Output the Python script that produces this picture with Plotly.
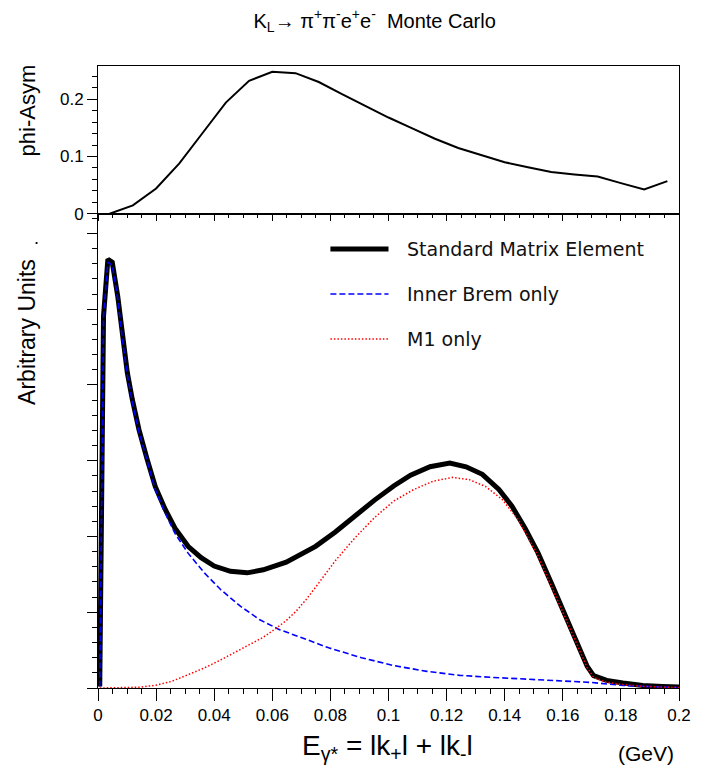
import plotly.graph_objects as go

# top panel: phi asymmetry vs E_gamma*
asym_x = [0.004, 0.012, 0.020, 0.028, 0.036, 0.044, 0.052, 0.060, 0.068, 0.076,
          0.084, 0.092, 0.100, 0.108, 0.116, 0.124, 0.132, 0.140, 0.148, 0.156,
          0.164, 0.172, 0.180, 0.188, 0.196]
asym_y = [0.0, 0.0145, 0.044, 0.088, 0.141, 0.194, 0.232, 0.248, 0.2455, 0.230,
          0.209, 0.188, 0.168, 0.1496, 0.131, 0.1147, 0.103, 0.090, 0.081, 0.0728,
          0.0687, 0.065, 0.0535, 0.0425, 0.057]

# bottom panel: spectra (arbitrary units)
std_x = [0.0006, 0.0019, 0.0034, 0.0049, 0.0068, 0.0085, 0.0101, 0.0118, 0.0141, 0.0169,
         0.0197, 0.0231, 0.0265, 0.031, 0.0355, 0.040, 0.0456, 0.0513, 0.0569, 0.0648,
         0.0715, 0.0749, 0.0817, 0.0884, 0.0952, 0.1019, 0.1076, 0.1143, 0.1211, 0.1267,
         0.1323, 0.138, 0.1425, 0.147, 0.1515, 0.156, 0.1605, 0.165, 0.1684, 0.1706,
         0.1751, 0.1807, 0.1875, 0.1943, 0.2]
std_y = [0.02, 4.91, 5.66, 5.62, 5.17, 4.60, 4.16, 3.81, 3.41, 3.02,
         2.66, 2.36, 2.11, 1.87, 1.72, 1.61, 1.54, 1.52, 1.56, 1.66,
         1.79, 1.87, 2.06, 2.27, 2.48, 2.67, 2.81, 2.92, 2.97, 2.92,
         2.82, 2.62, 2.40, 2.11, 1.78, 1.39, 0.99, 0.59, 0.285, 0.162,
         0.10, 0.066, 0.034, 0.021, 0.013]

ib_x = [0.0006, 0.0019, 0.0034, 0.0049, 0.0068, 0.0085, 0.0101, 0.0118, 0.0141, 0.0169,
        0.0197, 0.0231, 0.0265, 0.031, 0.0366, 0.0422, 0.049, 0.0557, 0.0625, 0.0704,
        0.0794, 0.0907, 0.1019, 0.1132, 0.1245, 0.1357, 0.147, 0.1582, 0.1695, 0.1807,
        0.192, 0.2]
ib_y = [0.02, 4.91, 5.62, 5.58, 5.14, 4.57, 4.13, 3.78, 3.38, 2.99,
        2.62, 2.31, 2.04, 1.78, 1.52, 1.30, 1.08, 0.90, 0.77, 0.66,
        0.53, 0.40, 0.295, 0.22, 0.167, 0.14, 0.119, 0.10, 0.074, 0.034,
        0.013, 0.004]

m1_x = [0.0006, 0.014, 0.0197, 0.0253, 0.031, 0.0366, 0.0422, 0.049, 0.0569, 0.0614,
        0.0648, 0.0681, 0.0715, 0.0749, 0.0817, 0.0884, 0.0952, 0.1019, 0.1087, 0.1154,
        0.1221, 0.1278, 0.1334, 0.1391, 0.1447, 0.1515, 0.156, 0.1605, 0.165, 0.1684,
        0.1706, 0.1751, 0.1807, 0.1875, 0.1943, 0.2]
m1_y = [0.0, 0.01, 0.035, 0.087, 0.176, 0.264, 0.37, 0.505, 0.67, 0.79,
        0.89, 1.01, 1.16, 1.33, 1.68, 1.98, 2.25, 2.47, 2.62, 2.73,
        2.78, 2.75, 2.66, 2.49, 2.22, 1.74, 1.35, 0.95, 0.56, 0.27,
        0.14, 0.075, 0.045, 0.022, 0.012, 0.008]

x_tickvals = [0, 0.02, 0.04, 0.06, 0.08, 0.1, 0.12, 0.14, 0.16, 0.18, 0.2]
x_ticktext = ["0", "0.02", "0.04", "0.06", "0.08", "0.1", "0.12", "0.14", "0.16", "0.18", "0.2"]
asym_tickvals = [0, 0.1, 0.2]
asym_ticktext = ["0", "0.1", "0.2"]

legend_names = ["Standard Matrix Element", "Inner Brem only", "M1 only"]

FONT = "Liberation Sans, Arial, sans-serif"

fig = go.Figure()

fig.add_trace(go.Scatter(x=asym_x, y=asym_y, mode="lines",
                         line=dict(color="black", width=2),
                         xaxis="x", yaxis="y", showlegend=False))
fig.add_trace(go.Scatter(x=std_x, y=std_y, mode="lines", name=legend_names[0],
                         line=dict(color="black", width=5),
                         xaxis="x2", yaxis="y2", showlegend=False))
fig.add_trace(go.Scatter(x=ib_x, y=ib_y, mode="lines", name=legend_names[1],
                         line=dict(color="blue", width=1.6, dash="6px,3px"),
                         xaxis="x2", yaxis="y2", showlegend=False))
fig.add_trace(go.Scatter(x=m1_x, y=m1_y, mode="lines", name=legend_names[2],
                         line=dict(color="red", width=1.5, dash="1.5px,2px"),
                         xaxis="x2", yaxis="y2", showlegend=False))

split = 0.7625
axis_common = dict(showline=True, linecolor="black", linewidth=1, mirror=True,
                   showgrid=False, zeroline=False, ticks="outside",
                   tickcolor="black", tickwidth=1,
                   tickfont=dict(family=FONT, size=17, color="black"))

fig.update_layout(
    width=703, height=767,
    margin=dict(l=98, r=12, t=66, b=79),
    paper_bgcolor="white", plot_bgcolor="white",
    font=dict(family=FONT, color="black"),
    title=dict(text="K<sub>L</sub>→ π<sup>+</sup>π<sup>-</sup>e<sup>+</sup>e<sup>-</sup>  Monte Carlo",
               x=0.533, xanchor="center", y=0.973, yanchor="middle",
               font=dict(family=FONT, size=20, color="black")),
    xaxis=dict(axis_common, domain=[0, 1], anchor="y", range=[0, 0.2],
               tickmode="array", tickvals=x_tickvals, showticklabels=False, ticklen=6,
               minor=dict(tickmode="linear", tick0=0, dtick=0.005, ticks="outside",
                          ticklen=3, tickcolor="black")),
    yaxis=dict(axis_common, domain=[split, 1], anchor="x", range=[0, 0.258],
               tickmode="array", tickvals=asym_tickvals, ticktext=asym_ticktext, ticklen=10,
               minor=dict(tickmode="linear", tick0=0, dtick=0.02, ticks="outside",
                          ticklen=5, tickcolor="black")),
    xaxis2=dict(axis_common, domain=[0, 1], anchor="y2", range=[0, 0.2],
                tickmode="array", tickvals=x_tickvals, ticktext=x_ticktext, ticklen=12,
                minor=dict(tickmode="linear", tick0=0, dtick=0.005, ticks="outside",
                           ticklen=5, tickcolor="black")),
    yaxis2=dict(axis_common, domain=[0, split], anchor="x2", range=[0, 6.26],
                tickmode="linear", tick0=0, dtick=1, showticklabels=False, ticklen=10,
                minor=dict(tickmode="linear", tick0=0, dtick=0.2, ticks="outside",
                           ticklen=5, tickcolor="black")),
)

# legend drawn like the ROOT TLegend: line samples + labels
leg_rows = [0.7058, 0.6334, 0.561]
leg_styles = [dict(color="black", width=5),
              dict(color="blue", width=1.6, dash="6px,3px"),
              dict(color="red", width=1.5, dash="1.5px,2px")]
for name, yy, st in zip(legend_names, leg_rows, leg_styles):
    fig.add_shape(type="line", xref="paper", yref="paper",
                  x0=0.400, x1=0.500, y0=yy, y1=yy, line=st)
    fig.add_annotation(text=name, xref="paper", yref="paper", x=0.528, y=yy,
                       xanchor="left", yanchor="middle", showarrow=False,
                       font=dict(family="DejaVu Sans", size=19, color="#111"))

# axis titles (ROOT style, placed by hand)
fig.add_annotation(text="phi-Asym", xref="paper", yref="paper", x=-0.121, y=0.928,
                   textangle=-90, showarrow=False, xanchor="center", yanchor="middle",
                   font=dict(family=FONT, size=22))
fig.add_annotation(text="Arbitrary Units", xref="paper", yref="paper", x=-0.121, y=0.572,
                   textangle=-90, showarrow=False, xanchor="center", yanchor="middle",
                   font=dict(family=FONT, size=23))
fig.add_annotation(text=".", xref="paper", yref="paper", x=-0.113, y=0.742,
                   showarrow=False, font=dict(family=FONT, size=18))
fig.add_annotation(text="E<sub>γ*</sub> = lk<sub>+</sub>l + lk<sub>-</sub>l",
                   xref="paper", yref="paper", x=0.499, y=-0.095,
                   xanchor="center", yanchor="middle", showarrow=False,
                   font=dict(family=FONT, size=28))
fig.add_annotation(text="(GeV)", xref="paper", yref="paper", x=0.944, y=-0.105,
                   xanchor="center", yanchor="middle", showarrow=False,
                   font=dict(family=FONT, size=21))

# drop the default body margin so the figure sits at the window origin
fig.write_html("out.html", config={"displayModeBar": False},
               post_script="document.body.style.margin='0';")
